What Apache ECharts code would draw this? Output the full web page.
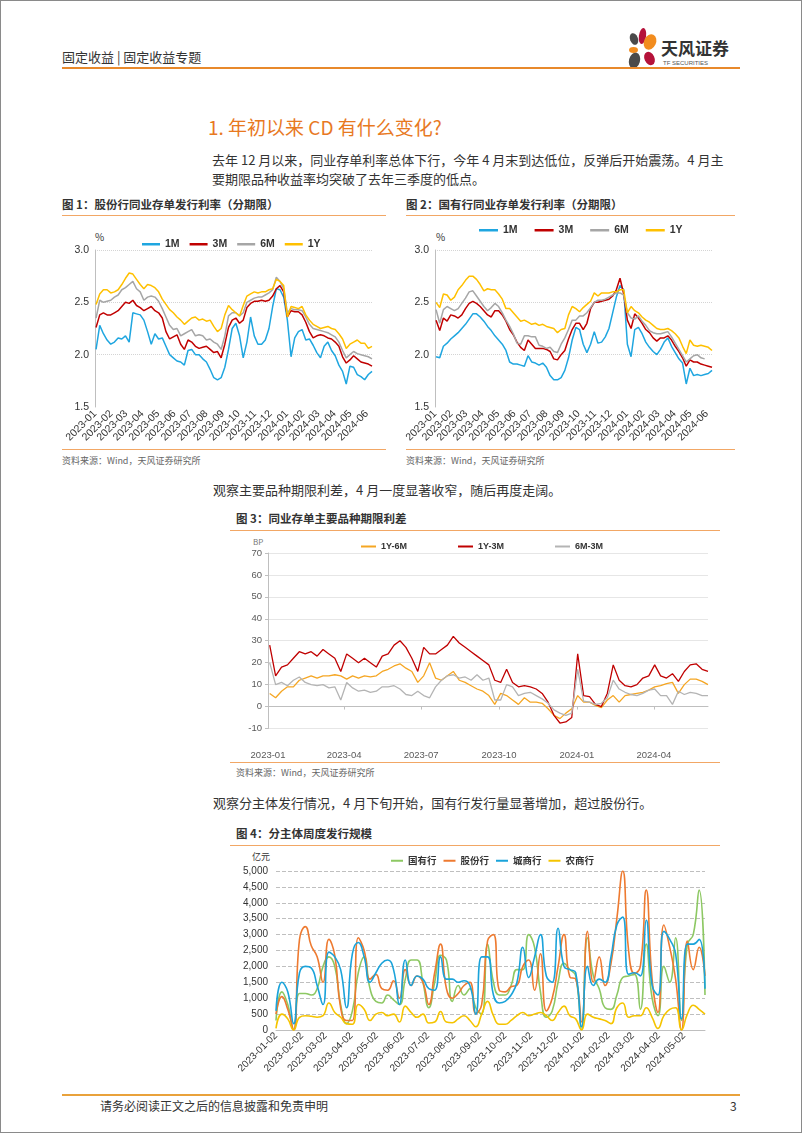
<!DOCTYPE html>
<html><head><meta charset="utf-8">
<script src="https://cdn.jsdelivr.net/npm/echarts@6/dist/echarts.min.js"></script>
<style>
html,body{margin:0;padding:0;background:#fff;}
#page{position:relative;width:802px;height:1133px;overflow:hidden;font-family:"Noto Sans CJK SC","Noto Sans",sans-serif;color:#333;background:#fff;}
#frame{position:absolute;left:0;top:0;width:802px;height:1133px;box-sizing:border-box;border:1px solid #8a8a8a;pointer-events:none;}
.t{position:absolute;white-space:nowrap;line-height:1;}
.ln{position:absolute;height:0;}
.chart{position:absolute;}
</style></head><body>
<div id="page">
  <div class="t" style="left:62px;top:50px;font-size:13px;color:#333;">固定收益 | 固定收益专题</div>
  <svg style="position:absolute;left:622px;top:24px;" width="118" height="46" viewBox="0 0 118 46">
    <ellipse cx="12" cy="15" rx="4" ry="6" transform="rotate(-20 12 15)" fill="#4a4a4a"/>
    <ellipse cx="20.5" cy="12" rx="3.6" ry="8" transform="rotate(8 20.5 12)" fill="#B5123A"/>
    <ellipse cx="28" cy="18" rx="6" ry="8" transform="rotate(25 28 18)" fill="#F28C1E"/>
    <ellipse cx="11.5" cy="26" rx="4.5" ry="3" fill="#F28C1E"/>
    <ellipse cx="12.5" cy="36.5" rx="5.5" ry="8" transform="rotate(15 12.5 36.5)" fill="#4a4a4a"/>
    <ellipse cx="27.5" cy="34.5" rx="5" ry="7" transform="rotate(-25 27.5 34.5)" fill="#B5123A"/>
    <text x="39" y="31" font-size="17" font-weight="bold" fill="#333" font-family="Noto Sans CJK SC">天风证券</text>
    <text x="41" y="41" font-size="6" fill="#555" font-family="Liberation Sans, Arial">TF SECURITIES</text>
  </svg>
  <div class="ln" style="left:62px;top:67px;width:678px;border-top:2px solid #E8892B;"></div>

  <div class="t" style="left:208px;top:117px;font-size:19px;color:#E8791F;">1. 年初以来 CD 有什么变化?</div>
  <div class="t" style="left:212px;top:153px;font-size:13px;color:#333;">去年 12 月以来，同业存单利率总体下行，今年 4 月末到达低位，反弹后开始震荡。4 月主</div>
  <div class="t" style="left:212px;top:172px;font-size:13px;color:#333;">要期限品种收益率均突破了去年三季度的低点。</div>

  <div class="t" style="left:62px;top:199px;font-size:11.5px;font-weight:bold;color:#333;">图 1：股份行同业存单发行利率（分期限）</div>
  <div class="ln" style="left:62px;top:215px;width:324px;border-top:1.5px solid #F2A765;"></div>
  <div class="t" style="left:406px;top:199px;font-size:11.5px;font-weight:bold;color:#333;">图 2：国有行同业存单发行利率（分期限）</div>
  <div class="ln" style="left:406px;top:215px;width:329px;border-top:1.5px solid #F2A765;"></div>
  <div class="t" style="left:95px;top:232px;font-size:10px;color:#333;">%</div>
  <div class="t" style="left:436px;top:232px;font-size:10px;color:#333;">%</div>
  <div id="c1" class="chart" style="left:60px;top:216px;width:330px;height:232px;"></div>
  <div id="c2" class="chart" style="left:400px;top:216px;width:330px;height:232px;"></div>
  <div class="ln" style="left:62px;top:449px;width:324px;border-top:1.5px solid #F2A765;"></div>
  <div class="ln" style="left:406px;top:449px;width:329px;border-top:1.5px solid #F2A765;"></div>
  <div class="t" style="left:62px;top:456px;font-size:9px;color:#666;">资料来源：Wind，天风证券研究所</div>
  <div class="t" style="left:406px;top:456px;font-size:9px;color:#666;">资料来源：Wind，天风证券研究所</div>

  <div class="t" style="left:213px;top:483px;font-size:13px;color:#333;">观察主要品种期限利差，4 月一度显著收窄，随后再度走阔。</div>

  <div class="t" style="left:236px;top:513px;font-size:11.5px;font-weight:bold;color:#333;">图 3：同业存单主要品种期限利差</div>
  <div class="ln" style="left:230px;top:530px;width:490px;border-top:1.5px solid #F2A765;"></div>
  <div class="t" style="left:253px;top:538px;font-size:8px;color:#777;">BP</div>
  <div id="c3" class="chart" style="left:228px;top:532px;width:490px;height:228px;"></div>
  <div class="ln" style="left:230px;top:762px;width:490px;border-top:1.5px solid #F2A765;"></div>
  <div class="t" style="left:236px;top:768px;font-size:9px;color:#666;">资料来源：Wind，天风证券研究所</div>

  <div class="t" style="left:213px;top:796px;font-size:13px;color:#333;">观察分主体发行情况，4 月下旬开始，国有行发行量显著增加，超过股份行。</div>

  <div class="t" style="left:236px;top:828px;font-size:11.5px;font-weight:bold;color:#333;">图 4：分主体周度发行规模</div>
  <div class="ln" style="left:230px;top:845px;width:490px;border-top:1.5px solid #F2A765;"></div>
  <div class="t" style="left:252px;top:852px;font-size:9px;color:#333;">亿元</div>
  <div id="c4" class="chart" style="left:228px;top:848px;width:490px;height:232px;"></div>

  <div class="ln" style="left:62px;top:1094px;width:678px;border-top:2.5px solid #E9A23B;"></div>
  <div class="t" style="left:100px;top:1100px;font-size:12px;color:#333;">请务必阅读正文之后的信息披露和免责申明</div>
  <div class="t" style="left:730px;top:1100px;font-size:12px;color:#333;">3</div>
  <div id="frame"></div>
</div>
<script>
// ---------- data ----------
// Fig 1: joint-stock banks NCD issuance rate (%), weekly from 2023-01-03
const c1_1M = [2.05,2.28,2.20,2.14,2.10,2.12,2.16,2.15,2.18,2.12, 2.40,2.39,2.38,2.33,2.22,2.10,2.20,2.15,2.16,2.08, 2.00,1.97,1.94,1.93,1.90,2.04,2.05,2.00,2.00,1.96, 1.93,1.86,1.78,1.76,1.78,1.88,2.05,2.25,2.30,2.18, 1.97,2.12,2.36,2.18,2.10,2.10,2.14,2.25,2.46,2.63, 2.62,2.55,2.33,1.98,2.16,2.22,2.24,2.14,2.15,2.09, 2.02,1.97,2.08,2.12,2.04,1.99,1.90,1.84,1.72,1.89, 1.88,1.81,1.79,1.76,1.81,1.84];
const c1_3M = [2.26,2.38,2.40,2.38,2.38,2.40,2.42,2.46,2.50,2.49, 2.52,2.47,2.45,2.42,2.44,2.46,2.42,2.40,2.35,2.22, 2.15,2.17,2.19,2.10,2.05,2.14,2.12,2.08,2.06,2.07, 2.08,2.05,2.02,2.03,1.97,2.10,2.26,2.33,2.35,2.30, 2.33,2.45,2.49,2.51,2.51,2.52,2.51,2.52,2.56,2.63, 2.66,2.60,2.36,2.42,2.41,2.41,2.38,2.31,2.22,2.16, 2.18,2.19,2.18,2.16,2.15,2.12,2.08,1.98,1.92,1.95, 1.99,1.96,1.93,1.92,1.91,1.89];
const c1_6M = [2.35,2.52,2.50,2.51,2.52,2.55,2.57,2.62,2.64,2.67, 2.70,2.63,2.60,2.52,2.55,2.56,2.55,2.51,2.44,2.36, 2.28,2.24,2.25,2.18,2.20,2.22,2.24,2.18,2.19,2.18, 2.14,2.15,2.12,2.10,2.05,2.18,2.37,2.40,2.40,2.37, 2.40,2.50,2.52,2.54,2.55,2.55,2.57,2.59,2.62,2.74, 2.70,2.63,2.40,2.44,2.43,2.43,2.42,2.36,2.29,2.25, 2.24,2.23,2.22,2.21,2.19,2.17,2.12,2.04,1.97,2.00, 2.03,2.01,2.00,1.99,1.98,1.96];
const c1_1Y = [2.48,2.58,2.62,2.62,2.59,2.60,2.62,2.67,2.73,2.78, 2.77,2.72,2.67,2.63,2.67,2.66,2.64,2.60,2.53,2.48, 2.43,2.40,2.36,2.33,2.29,2.32,2.35,2.36,2.33,2.34, 2.32,2.33,2.27,2.22,2.25,2.38,2.47,2.43,2.40,2.37, 2.47,2.56,2.58,2.60,2.59,2.60,2.60,2.62,2.63,2.72, 2.70,2.66,2.36,2.46,2.45,2.44,2.46,2.38,2.33,2.29, 2.27,2.25,2.26,2.27,2.25,2.24,2.20,2.15,2.06,2.10, 2.12,2.14,2.11,2.11,2.06,2.08];
// Fig 2: state-owned banks NCD issuance rate (%), weekly from 2023-01-03
const c2_1M = [1.98,1.97,2.08,2.11,2.15,2.18,2.21,2.25,2.29,2.34, 2.39,2.39,2.36,2.32,2.27,2.23,2.18,2.14,2.10,2.04, 1.93,1.91,1.91,1.90,1.89,1.99,1.93,1.92,1.90,1.92, 1.88,1.80,1.76,1.76,1.78,1.85,1.97,2.14,2.26,2.24, 2.10,2.02,2.10,2.22,2.11,2.12,2.17,2.25,2.40,2.55, 2.66,2.62,2.10,1.98,2.24,2.26,2.20,2.12,2.07,2.03, 2.00,2.05,2.12,2.16,2.08,2.02,1.96,1.92,1.72,1.87, 1.80,1.81,1.80,1.81,1.82,1.85];
const c2_3M = [2.33,2.23,2.35,2.32,2.38,2.37,2.35,2.38,2.44,2.49, 2.51,2.49,2.46,2.42,2.38,2.36,2.42,2.42,2.38,2.32, 2.24,2.19,2.12,2.07,2.04,2.14,2.10,2.06,2.06,2.06, 2.05,2.03,1.96,1.95,2.00,2.04,2.15,2.24,2.30,2.30, 2.24,2.30,2.44,2.50,2.50,2.51,2.52,2.53,2.56,2.62, 2.73,2.58,2.33,2.25,2.39,2.35,2.30,2.24,2.21,2.16, 2.13,2.16,2.16,2.18,2.14,2.08,2.03,1.97,1.89,1.95, 1.93,1.93,1.91,1.90,1.89,1.88];
const c2_6M = [2.43,2.30,2.43,2.46,2.44,2.42,2.44,2.49,2.54,2.60, 2.61,2.56,2.51,2.46,2.42,2.45,2.49,2.46,2.40,2.33, 2.27,2.20,2.11,2.10,2.18,2.18,2.17,2.17,2.09,2.08, 2.06,2.07,2.03,2.02,2.10,2.16,2.24,2.33,2.33,2.37, 2.37,2.40,2.45,2.50,2.52,2.52,2.53,2.55,2.57,2.59, 2.59,2.57,2.40,2.35,2.34,2.37,2.32,2.28,2.23,2.21, 2.20,2.20,2.21,2.22,2.17,2.11,2.05,1.99,1.93,1.96, 1.99,2.00,1.97,1.96,null,null];
const c2_1Y = [2.50,2.45,2.58,2.57,2.52,2.55,2.62,2.66,2.71,2.75, 2.75,2.72,2.67,2.61,2.63,2.62,2.62,2.58,2.53,2.44, 2.44,2.40,2.36,2.32,2.33,2.31,2.29,2.30,2.28,2.29, 2.27,2.26,2.25,2.21,2.24,2.25,2.38,2.46,2.44,2.41, 2.45,2.48,2.51,2.59,2.56,2.59,2.59,2.59,2.60,2.60, 2.62,2.62,2.40,2.46,2.42,2.40,2.36,2.33,2.31,2.28, 2.25,2.24,2.24,2.25,2.23,2.20,2.16,2.08,2.01,2.14, 2.09,2.08,2.09,2.08,2.07,2.04];
// Fig 3: term spreads (BP), weekly from 2023-01-03
const c3_1Y6M = [6,4,7,9,9,12,13,14,13,14, 14,14.5,14,12.5,14,13,14,13.5,14,16, 17,18.5,19.5,17.5,16,11,14,20,13,12, 14,16,12,11,9.5,8,7,5,1,6, 5,3,1,4,2,2,1.5,-1,-4,-5.5, -3,-1,5,2,2,0.5,-0.5,3,5,2, 5,5.5,6,6.5,7.5,9,9.5,10.5,11,6, 10,12.5,12.5,11.5,10];
const c3_1Y3M = [28,14,18,19,22,25,24,25,23,26, 24,22,16,24,22,20,22,20,18,23, 24,28,30,27,22,16,27,24,24,26, 28,32,29,27,25,23,21,19,12,11, 17,11,9,9.5,9,8,6,2,-4,-7.5, -7,-5,24,5,4.5,1,0,6,19,12, 9.5,9,10,13,14,19,14,13,15,11.5, 16,19,19.5,17,16];
const c3_6M3M = [20,10,11,9.5,12,13.5,11,10,9.5,10, 8.5,9,3,11,8.5,7,7.5,6.5,7,9, 9,9.5,8,5.5,5,7,5,4,9,12, 14,14.5,13,13.5,12,14.5,12,13,3,3, 10,9,5,6,6.5,5,3.5,1.5,-1.5,-3, -4,-3,17,2.5,2,1,1.5,4,12,8, 6.5,5.5,5,6,7.5,8,5,5,1,7, 5.5,6.5,6,5,5];
// Fig 4: weekly issuance by issuer type (100m CNY), weekly from 2023-01-02
const c4_state = [300,1200,800,0,1150,1150,1100,1300,2000,2300, 2000,800,200,600,1800,2300,1300,900,850,1100, 950,800,1600,2200,2200,1500,700,1500,2350,2200, 900,1400,1100,1300,700,500,2700,1500,1100,1100, 1400,1900,1900,3000,2600,1200,400,600,1500,2100, 1900,1700,0,2900,1700,1300,700,650,1100,1650, 1700,1750,650,2700,1000,450,2000,1500,2900,300, 2700,3000,4400,1100];
const c4_joint = [500,1050,650,0,2850,3250,2650,2300,1500,2850, 2350,700,300,300,2900,2500,1600,1750,1300,1250, 1550,1000,1900,1400,1700,1500,800,1800,2700,1300, 1000,1150,1400,1500,520,800,2800,3000,1250,1200, 1360,1410,2000,2200,1250,2400,600,1000,2000,3000, 1670,1600,250,3100,1500,2300,1400,2090,3500,5000, 2500,1780,2000,4400,1600,550,3300,2600,1600,0, 2800,1900,2600,1700];
const c4_city = [600,1500,1200,200,1800,2000,1950,1400,800,2450, 2300,1900,700,2400,2750,2300,1500,1800,2100,2200, 1900,800,2200,1400,1700,1600,1300,1250,2300,1600, 1600,1500,1550,1400,500,2300,2300,1100,850,900, 1100,1500,2600,1650,2300,3000,1700,1500,3200,2000, 1900,1800,100,2000,1400,1600,1500,2300,3300,3550, 1750,1800,1700,3450,1400,1100,3100,2850,2400,350, 2700,2700,2850,1300];
const c4_rural = [50,500,350,0,400,450,430,400,450,850, 550,400,200,180,800,650,300,500,550,450, 500,250,750,550,400,500,220,250,580,250, 230,350,450,300,100,500,900,450,180,180, 300,450,550,450,500,550,450,300,550,750, 450,350,0,500,400,350,300,200,700,850, 400,450,450,700,400,50,450,650,700,0, 500,780,650,500];

const rateNames = ['1M','3M','6M','1Y'];
const spreadNames = ['1Y-6M','1Y-3M','6M-3M'];
const issuerNames = ['国有行','股份行','城商行','农商行'];

// ---------- helpers ----------
function weekly(y,m,d,n){const o=[];for(let i=0;i<n;i++){o.push(new Date(y,m-1,d+7*i).getTime());}return o;}
function pad(n){return n<10?'0'+n:''+n;}
function pairs(dates,vals){return vals.map((v,i)=>[dates[i],v]);}
function fmtYM(v){const d=new Date(v);return d.getFullYear()+'-'+pad(d.getMonth()+1);}
function fmtYMD(v){const d=new Date(v);return d.getFullYear()+'-'+pad(d.getMonth()+1)+'-'+pad(d.getDate());}
const FONT = 'Arial, "Liberation Sans", "Noto Sans CJK SC", sans-serif';

const d1 = weekly(2023,1,3,76);
const d3 = weekly(2023,1,3,75);
const d4 = weekly(2023,1,2,74);
const monthTicks1 = []; for(let i=0;i<18;i++) monthTicks1.push(new Date(2023,i,1).getTime());
const quarterTicks = []; for(let i=0;i<6;i++) quarterTicks.push(new Date(2023,3*i,1).getTime());
const monthTicks4 = []; for(let i=0;i<17;i++) monthTicks4.push(new Date(2023,i,2).getTime());

const rateColors = ['#1FA6E0','#C00000','#A6A6A6','#FFC000'];

function rateOption(vals, legendLeft, legendTop, gap, iw){
  return {
    animation:false,
    textStyle:{fontFamily:FONT},
    color:rateColors,
    legend:{left:legendLeft, top:legendTop, icon:'rect', itemWidth:iw, itemHeight:2.5, itemGap:gap,
      textStyle:{fontSize:10.5, fontWeight:'bold', color:'#333', fontFamily:FONT}, data:rateNames},
    grid:{left:35, right:18, top:34, bottom:41},
    xAxis:{type:'value', min:new Date(2023,0,1).getTime(), max:d1[d1.length-1],
      axisLine:{show:false}, axisTick:{show:false}, splitLine:{show:false},
      axisLabel:{customValues:monthTicks1, formatter:fmtYM, rotate:45, fontSize:10.5, color:'#333', margin:5, hideOverlap:false}},
    yAxis:{type:'value', min:1.5, max:3.0, interval:0.5,
      axisLine:{show:true, lineStyle:{color:'#bfbfbf', width:1}}, axisTick:{show:false},
      axisLabel:{formatter:v=>v.toFixed(1), fontSize:10.5, color:'#333', margin:6},
      splitLine:{show:true, showMinLine:false, lineStyle:{color:'#d4d4d4', type:'dotted'}}},
    series: rateNames.map((n,i)=>({name:n, type:'line', data:pairs(d1, vals[i]), symbol:'none',
      lineStyle:{width:1.5, color:rateColors[i]}, itemStyle:{color:rateColors[i]}}))
  };
}

const ch1 = echarts.init(document.getElementById('c1'), null, {renderer:'canvas'});
ch1.setOption(rateOption([c1_1M,c1_3M,c1_6M,c1_1Y], 77, 18, 10, 18));
const ch2 = echarts.init(document.getElementById('c2'), null, {renderer:'canvas'});
ch2.setOption(rateOption([c2_1M,c2_3M,c2_6M,c2_1Y], 74, 4, 17, 19));

const spreadColors = ['#F5A623','#C00000','#B4B4B4'];
const ch3 = echarts.init(document.getElementById('c3'));
ch3.setOption({
  animation:false,
  textStyle:{fontFamily:FONT},
  color:spreadColors,
  legend:{left:128, top:5, icon:'rect', itemWidth:15, itemHeight:2, itemGap:51,
    textStyle:{fontSize:9, fontWeight:'bold', color:'#333', fontFamily:FONT}, data:spreadNames},
  grid:{left:40, right:10, top:21, bottom:18},
  xAxis:{type:'value', min:new Date(2023,0,1).getTime(), max:d3[d3.length-1],
    axisLine:{show:true, onZero:true, lineStyle:{color:'#bfbfbf'}},
    axisTick:{show:true, customValues:quarterTicks, length:3, lineStyle:{color:'#bfbfbf'}},
    splitLine:{show:false},
    axisLabel:{customValues:quarterTicks, formatter:fmtYM, fontSize:9.5, color:'#595959', margin:22}},
  yAxis:{type:'value', min:-10, max:70, interval:10,
    axisLine:{show:true, lineStyle:{color:'#bfbfbf'}},
    axisTick:{show:true, length:3, lineStyle:{color:'#bfbfbf'}},
    axisLabel:{fontSize:9.5, color:'#595959', margin:6},
    splitLine:{show:true, lineStyle:{color:'#e6e6e6', width:1}}},
  series:[c3_1Y6M,c3_1Y3M,c3_6M3M].map((v,i)=>({name:spreadNames[i], type:'line', data:pairs(d3,v), symbol:'none',
    lineStyle:{width:1.3, color:spreadColors[i]}, itemStyle:{color:spreadColors[i]}}))
});

const issuerColors = ['#8DC863','#EE7A30','#1AA3DA','#F5C400'];
const ch4 = echarts.init(document.getElementById('c4'));
ch4.setOption({
  animation:false,
  textStyle:{fontFamily:FONT},
  color:issuerColors,
  legend:{left:158, top:3, icon:'rect', itemWidth:12, itemHeight:2, itemGap:7,
    textStyle:{fontSize:9.5, fontWeight:'bold', color:'#333', fontFamily:'"Noto Sans CJK SC", sans-serif'}, data:issuerNames},
  grid:{left:48, right:13, top:23, bottom:50},
  xAxis:{type:'value', min:d4[0], max:d4[d4.length-1],
    axisLine:{show:true, onZero:true, lineStyle:{color:'#bfbfbf'}},
    axisTick:{show:false}, splitLine:{show:false},
    axisLabel:{customValues:monthTicks4, formatter:fmtYMD, rotate:45, fontSize:10, color:'#333', margin:4, hideOverlap:false}},
  yAxis:{type:'value', min:0, max:5000, interval:500,
    axisLine:{show:false}, axisTick:{show:false},
    axisLabel:{fontSize:10, color:'#333', margin:8, formatter:v=>String(v).replace(/\B(?=(\d{3})+(?!\d))/g, ',')},
    splitLine:{show:true, lineStyle:{color:'#bfbfbf', type:'dashed'}}},
  series:[c4_state,c4_joint,c4_city,c4_rural].map((v,i)=>({name:issuerNames[i], type:'line', data:pairs(d4,v), symbol:'none', smooth:0.5,
    lineStyle:{width:1.6, color:issuerColors[i]}, itemStyle:{color:issuerColors[i]}}))
});
</script>
</body></html>
